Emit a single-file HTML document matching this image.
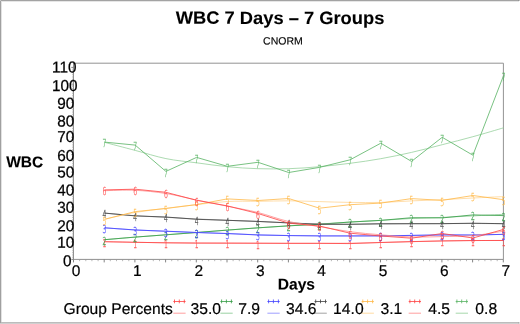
<!DOCTYPE html>
<html><head><meta charset="utf-8"><title>WBC 7 Days – 7 Groups</title>
<style>
html,body{margin:0;padding:0;background:#fff;}
body{width:520px;height:324px;position:relative;overflow:hidden;font-family:"Liberation Sans",Arial,sans-serif;}
.bt{position:absolute;left:0;top:0;width:520px;height:1px;background:linear-gradient(to right,#c8c8c8 0,#c8c8c8 1px,#a3a3a3 1px,#a3a3a3 518px,#949494 518px,#949494 519px,#c0c0c0 519px)}
.bt2{position:absolute;left:0;top:1px;width:519px;height:1px;background:#e6e6e6}
.bl{position:absolute;left:0;top:1px;width:1px;height:322px;background:#a0a0a0}
.bl2{position:absolute;left:1px;top:1px;width:1px;height:321px;background:#e2e2e2}
.bb{position:absolute;left:1px;top:322px;width:519px;height:1px;background:linear-gradient(to right,#bcbcbc 0,#bcbcbc 517px,#b0b0b0 517px,#b0b0b0 518px,#dcdcdc 518px)}
.bb2{position:absolute;left:0;top:323px;width:520px;height:1px;background:linear-gradient(to right,#cfcfcf 0,#cfcfcf 518px,#c4c4c4 518px,#c4c4c4 519px,#e0e0e0 519px)}
</style></head><body>
<div class="bt"></div><div class="bt2"></div><div class="bl2"></div><div class="bl"></div><div class="bb"></div><div class="bb2"></div>
<svg width="520" height="324" viewBox="0 0 520 324" text-rendering="geometricPrecision" style="position:absolute;left:0;top:0;text-rendering:geometricPrecision;font-family:'Liberation Sans',Arial,sans-serif">
<g fill="none" stroke="#939393" stroke-width="1">
<path d="M73.5 63.2 H503.4 V259.4"/>
</g>
<g fill="none" stroke="#909090" stroke-width="1">
<path d="M73.5 63.2 V259.4 H503.4"/>
</g>
<path d="M73.5 259.4v3M104.2 259.4v3M134.9 259.4v3M165.6 259.4v3M196.3 259.4v3M227.0 259.4v3M257.7 259.4v3M288.4 259.4v3M319.1 259.4v3M349.8 259.4v3M380.5 259.4v3M411.2 259.4v3M441.9 259.4v3M472.6 259.4v3M503.3 259.4v3M73.5 259.4h-2.2M73.5 241.9h-2.2M73.5 224.5h-2.2M73.5 207.0h-2.2M73.5 189.6h-2.2M73.5 172.1h-2.2M73.5 154.7h-2.2M73.5 137.2h-2.2M73.5 119.8h-2.2M73.5 102.3h-2.2M73.5 84.9h-2.2M73.5 67.4h-2.2" stroke="#777" stroke-width="0.9" fill="none"/>
<path d="M79.6 259.4v1.8M85.8 259.4v1.8M91.9 259.4v1.8M98.1 259.4v1.8M110.3 259.4v1.8M116.5 259.4v1.8M122.6 259.4v1.8M128.8 259.4v1.8M141.0 259.4v1.8M147.2 259.4v1.8M153.3 259.4v1.8M159.5 259.4v1.8M171.7 259.4v1.8M177.9 259.4v1.8M184.0 259.4v1.8M190.2 259.4v1.8M202.4 259.4v1.8M208.6 259.4v1.8M214.7 259.4v1.8M220.9 259.4v1.8M233.1 259.4v1.8M239.3 259.4v1.8M245.4 259.4v1.8M251.6 259.4v1.8M263.8 259.4v1.8M270.0 259.4v1.8M276.1 259.4v1.8M282.3 259.4v1.8M294.5 259.4v1.8M300.7 259.4v1.8M306.8 259.4v1.8M313.0 259.4v1.8M325.2 259.4v1.8M331.4 259.4v1.8M337.5 259.4v1.8M343.7 259.4v1.8M355.9 259.4v1.8M362.1 259.4v1.8M368.2 259.4v1.8M374.4 259.4v1.8M386.6 259.4v1.8M392.8 259.4v1.8M398.9 259.4v1.8M405.1 259.4v1.8M417.3 259.4v1.8M423.5 259.4v1.8M429.6 259.4v1.8M435.8 259.4v1.8M448.0 259.4v1.8M454.2 259.4v1.8M460.3 259.4v1.8M466.5 259.4v1.8M478.7 259.4v1.8M484.9 259.4v1.8M491.0 259.4v1.8M497.2 259.4v1.8M73.5 257.7h-1.3M73.5 255.9h-1.3M73.5 254.2h-1.3M73.5 252.4h-1.3M73.5 250.7h-1.3M73.5 248.9h-1.3M73.5 247.2h-1.3M73.5 245.4h-1.3M73.5 243.7h-1.3M73.5 240.2h-1.3M73.5 238.5h-1.3M73.5 236.7h-1.3M73.5 235.0h-1.3M73.5 233.2h-1.3M73.5 231.5h-1.3M73.5 229.7h-1.3M73.5 228.0h-1.3M73.5 226.2h-1.3M73.5 222.8h-1.3M73.5 221.0h-1.3M73.5 219.3h-1.3M73.5 217.5h-1.3M73.5 215.8h-1.3M73.5 214.0h-1.3M73.5 212.3h-1.3M73.5 210.5h-1.3M73.5 208.8h-1.3M73.5 205.3h-1.3M73.5 203.6h-1.3M73.5 201.8h-1.3M73.5 200.1h-1.3M73.5 198.3h-1.3M73.5 196.6h-1.3M73.5 194.8h-1.3M73.5 193.1h-1.3M73.5 191.3h-1.3M73.5 187.9h-1.3M73.5 186.1h-1.3M73.5 184.4h-1.3M73.5 182.6h-1.3M73.5 180.9h-1.3M73.5 179.1h-1.3M73.5 177.4h-1.3M73.5 175.6h-1.3M73.5 173.9h-1.3M73.5 170.4h-1.3M73.5 168.7h-1.3M73.5 166.9h-1.3M73.5 165.2h-1.3M73.5 163.4h-1.3M73.5 161.7h-1.3M73.5 159.9h-1.3M73.5 158.2h-1.3M73.5 156.4h-1.3M73.5 153.0h-1.3M73.5 151.2h-1.3M73.5 149.5h-1.3M73.5 147.7h-1.3M73.5 146.0h-1.3M73.5 144.2h-1.3M73.5 142.5h-1.3M73.5 140.7h-1.3M73.5 139.0h-1.3M73.5 135.5h-1.3M73.5 133.8h-1.3M73.5 132.0h-1.3M73.5 130.3h-1.3M73.5 128.5h-1.3M73.5 126.8h-1.3M73.5 125.0h-1.3M73.5 123.3h-1.3M73.5 121.5h-1.3M73.5 118.1h-1.3M73.5 116.3h-1.3M73.5 114.6h-1.3M73.5 112.8h-1.3M73.5 111.1h-1.3M73.5 109.3h-1.3M73.5 107.6h-1.3M73.5 105.8h-1.3M73.5 104.1h-1.3M73.5 100.6h-1.3M73.5 98.9h-1.3M73.5 97.1h-1.3M73.5 95.4h-1.3M73.5 93.6h-1.3M73.5 91.9h-1.3M73.5 90.1h-1.3M73.5 88.4h-1.3M73.5 86.6h-1.3M73.5 83.2h-1.3M73.5 81.4h-1.3M73.5 79.7h-1.3M73.5 77.9h-1.3M73.5 76.2h-1.3M73.5 74.4h-1.3M73.5 72.7h-1.3M73.5 70.9h-1.3M73.5 69.2h-1.3" stroke="#999" stroke-width="0.7" fill="none"/>
<text transform="translate(63.00 266.20) rotate(0.03) scale(0.970 1)" font-size="15.80" text-anchor="start" fill="#000" stroke="#000" stroke-width="0.25">0</text>
<text transform="translate(57.30 247.80) rotate(0.03) scale(0.970 1)" font-size="15.80" text-anchor="start" fill="#000" stroke="#000" stroke-width="0.25">10</text>
<text transform="translate(57.30 231.20) rotate(0.03) scale(0.970 1)" font-size="15.80" text-anchor="start" fill="#000" stroke="#000" stroke-width="0.25">20</text>
<text transform="translate(57.30 212.80) rotate(0.03) scale(0.970 1)" font-size="15.80" text-anchor="start" fill="#000" stroke="#000" stroke-width="0.25">30</text>
<text transform="translate(57.30 195.60) rotate(0.03) scale(0.970 1)" font-size="15.80" text-anchor="start" fill="#000" stroke="#000" stroke-width="0.25">40</text>
<text transform="translate(57.30 177.60) rotate(0.03) scale(0.970 1)" font-size="15.80" text-anchor="start" fill="#000" stroke="#000" stroke-width="0.25">50</text>
<text transform="translate(57.30 160.90) rotate(0.03) scale(0.970 1)" font-size="15.80" text-anchor="start" fill="#000" stroke="#000" stroke-width="0.25">60</text>
<text transform="translate(57.30 142.10) rotate(0.03) scale(0.970 1)" font-size="15.80" text-anchor="start" fill="#000" stroke="#000" stroke-width="0.25">70</text>
<text transform="translate(57.30 126.40) rotate(0.03) scale(0.970 1)" font-size="15.80" text-anchor="start" fill="#000" stroke="#000" stroke-width="0.25">80</text>
<text transform="translate(57.30 108.70) rotate(0.03) scale(0.970 1)" font-size="15.80" text-anchor="start" fill="#000" stroke="#000" stroke-width="0.25">90</text>
<text transform="translate(52.00 90.90) rotate(0.03) scale(0.970 1)" font-size="15.80" text-anchor="start" fill="#000" stroke="#000" stroke-width="0.25">100</text>
<text transform="translate(52.00 72.50) rotate(0.03) scale(0.970 1)" font-size="15.80" text-anchor="start" fill="#000" stroke="#000" stroke-width="0.25">110</text>
<text transform="translate(76.00 275.90) rotate(0.03) scale(1.000 1)" font-size="15.50" text-anchor="middle" fill="#000" stroke="#000" stroke-width="0.20">0</text>
<text transform="translate(137.40 275.90) rotate(0.03) scale(1.000 1)" font-size="15.50" text-anchor="middle" fill="#000" stroke="#000" stroke-width="0.20">1</text>
<text transform="translate(198.80 275.90) rotate(0.03) scale(1.000 1)" font-size="15.50" text-anchor="middle" fill="#000" stroke="#000" stroke-width="0.20">2</text>
<text transform="translate(260.20 275.90) rotate(0.03) scale(1.000 1)" font-size="15.50" text-anchor="middle" fill="#000" stroke="#000" stroke-width="0.20">3</text>
<text transform="translate(321.60 275.90) rotate(0.03) scale(1.000 1)" font-size="15.50" text-anchor="middle" fill="#000" stroke="#000" stroke-width="0.20">4</text>
<text transform="translate(383.00 275.90) rotate(0.03) scale(1.000 1)" font-size="15.50" text-anchor="middle" fill="#000" stroke="#000" stroke-width="0.20">5</text>
<text transform="translate(444.40 275.90) rotate(0.03) scale(1.000 1)" font-size="15.50" text-anchor="middle" fill="#000" stroke="#000" stroke-width="0.20">6</text>
<text transform="translate(505.80 275.90) rotate(0.03) scale(1.000 1)" font-size="15.50" text-anchor="middle" fill="#000" stroke="#000" stroke-width="0.20">7</text>
<path d="M104.5 241.7 C109.6 241.8 125.0 242.1 135.2 242.3 C145.4 242.5 155.7 242.7 165.9 242.8 C176.1 242.9 186.4 242.9 196.6 243.0 C206.8 243.1 217.1 243.1 227.3 243.2 C237.5 243.2 247.8 243.3 258.0 243.3 C268.2 243.3 278.5 243.4 288.7 243.4 C298.9 243.4 309.2 243.4 319.4 243.4 C329.6 243.4 339.9 243.3 350.1 243.2 C360.3 243.0 370.6 242.8 380.8 242.5 C391.0 242.2 401.3 241.9 411.5 241.7 C421.7 241.4 432.0 241.2 442.2 241.0 C452.4 240.8 462.7 240.7 472.9 240.6 C483.1 240.5 498.5 240.4 503.6 240.4" fill="none" stroke="#ff8585" stroke-width="0.75"/>
<polyline points="104.5,241.7 135.2,242.3 165.9,242.8 196.6,243.1 227.3,243.1 258.0,243.2 288.7,243.3 319.4,243.3 350.1,243.6 380.8,242.5 411.5,241.6 442.2,240.9 472.9,240.5 503.6,240.5" fill="none" stroke="#ff4040" stroke-width="0.8"/>
<g font-size="11" font-family="DejaVu Sans Light,DejaVu Sans,sans-serif" text-anchor="middle" fill="#ff4040" stroke="#ff4040" stroke-width="0.4" vector-effect="non-scaling-stroke" opacity="0.8" style="vector-effect:non-scaling-stroke">
<text vector-effect="non-scaling-stroke" transform="translate(104.5 247.0) scale(0.55 1)">1</text>
<text vector-effect="non-scaling-stroke" transform="translate(135.2 247.6) scale(0.55 1)">1</text>
<text vector-effect="non-scaling-stroke" transform="translate(165.9 248.1) scale(0.55 1)">1</text>
<text vector-effect="non-scaling-stroke" transform="translate(196.6 248.4) scale(0.55 1)">1</text>
<text vector-effect="non-scaling-stroke" transform="translate(227.3 248.4) scale(0.55 1)">1</text>
<text vector-effect="non-scaling-stroke" transform="translate(258.0 248.5) scale(0.55 1)">1</text>
<text vector-effect="non-scaling-stroke" transform="translate(288.7 248.6) scale(0.55 1)">1</text>
<text vector-effect="non-scaling-stroke" transform="translate(319.4 248.6) scale(0.55 1)">1</text>
<text vector-effect="non-scaling-stroke" transform="translate(350.1 248.9) scale(0.55 1)">1</text>
<text vector-effect="non-scaling-stroke" transform="translate(380.8 247.8) scale(0.55 1)">1</text>
<text vector-effect="non-scaling-stroke" transform="translate(411.5 246.9) scale(0.55 1)">1</text>
<text vector-effect="non-scaling-stroke" transform="translate(442.2 246.2) scale(0.55 1)">1</text>
<text vector-effect="non-scaling-stroke" transform="translate(472.9 245.8) scale(0.55 1)">1</text>
<text vector-effect="non-scaling-stroke" transform="translate(503.6 245.8) scale(0.55 1)">1</text>
</g>
<path d="M104.5 239.7 C109.6 239.3 125.0 237.9 135.2 237.1 C145.4 236.3 155.7 235.6 165.9 234.8 C176.1 234.0 186.4 233.3 196.6 232.5 C206.8 231.7 217.1 230.9 227.3 230.1 C237.5 229.3 247.8 228.6 258.0 227.9 C268.2 227.2 278.5 226.6 288.7 225.9 C298.9 225.2 309.2 224.6 319.4 224.0 C329.6 223.4 339.9 222.7 350.1 222.1 C360.3 221.5 370.6 220.9 380.8 220.3 C391.0 219.7 401.3 219.0 411.5 218.5 C421.7 218.0 432.0 217.8 442.2 217.4 C452.4 217.0 462.7 216.4 472.9 215.9 C483.1 215.4 498.5 214.6 503.6 214.3" fill="none" stroke="#80c58a" stroke-width="0.75"/>
<polyline points="104.5,239.7 135.2,237.1 165.9,234.8 196.6,232.5 227.3,230.1 258.0,227.8 288.7,225.8 319.4,224.3 350.1,222.0 380.8,220.4 411.5,217.7 442.2,217.9 472.9,214.9 503.6,215.6" fill="none" stroke="#339c44" stroke-width="0.8"/>
<g font-size="11" font-family="DejaVu Sans Light,DejaVu Sans,sans-serif" text-anchor="middle" fill="#339c44" stroke="#339c44" stroke-width="0.4" vector-effect="non-scaling-stroke" opacity="0.8" style="vector-effect:non-scaling-stroke">
<text vector-effect="non-scaling-stroke" transform="translate(104.5 245.0) scale(0.55 1)">2</text>
<text vector-effect="non-scaling-stroke" transform="translate(135.2 242.4) scale(0.55 1)">2</text>
<text vector-effect="non-scaling-stroke" transform="translate(165.9 240.1) scale(0.55 1)">2</text>
<text vector-effect="non-scaling-stroke" transform="translate(196.6 237.8) scale(0.55 1)">2</text>
<text vector-effect="non-scaling-stroke" transform="translate(227.3 235.4) scale(0.55 1)">2</text>
<text vector-effect="non-scaling-stroke" transform="translate(258.0 233.1) scale(0.55 1)">2</text>
<text vector-effect="non-scaling-stroke" transform="translate(288.7 231.1) scale(0.55 1)">2</text>
<text vector-effect="non-scaling-stroke" transform="translate(319.4 229.6) scale(0.55 1)">2</text>
<text vector-effect="non-scaling-stroke" transform="translate(350.1 227.3) scale(0.55 1)">2</text>
<text vector-effect="non-scaling-stroke" transform="translate(380.8 225.7) scale(0.55 1)">2</text>
<text vector-effect="non-scaling-stroke" transform="translate(411.5 223.0) scale(0.55 1)">2</text>
<text vector-effect="non-scaling-stroke" transform="translate(442.2 223.2) scale(0.55 1)">2</text>
<text vector-effect="non-scaling-stroke" transform="translate(472.9 220.2) scale(0.55 1)">2</text>
<text vector-effect="non-scaling-stroke" transform="translate(503.6 220.9) scale(0.55 1)">2</text>
</g>
<path d="M104.5 227.8 C109.6 228.2 125.0 229.3 135.2 229.9 C145.4 230.5 155.7 230.9 165.9 231.3 C176.1 231.7 186.4 232.1 196.6 232.5 C206.8 232.9 217.1 233.2 227.3 233.6 C237.5 234.0 247.8 234.5 258.0 234.8 C268.2 235.1 278.5 235.3 288.7 235.5 C298.9 235.7 309.2 235.8 319.4 235.9 C329.6 236.0 339.9 236.0 350.1 236.0 C360.3 236.0 370.6 235.9 380.8 235.8 C391.0 235.7 401.3 235.5 411.5 235.4 C421.7 235.3 432.0 235.2 442.2 235.1 C452.4 235.0 462.7 235.0 472.9 234.9 C483.1 234.8 498.5 234.5 503.6 234.4" fill="none" stroke="#8585ff" stroke-width="0.75"/>
<polyline points="104.5,227.8 135.2,230.0 165.9,231.2 196.6,232.5 227.3,233.5 258.0,235.0 288.7,235.6 319.4,235.9 350.1,235.9 380.8,235.9 411.5,235.4 442.2,234.8 472.9,235.1 503.6,234.3" fill="none" stroke="#4040ff" stroke-width="0.8"/>
<g font-size="11" font-family="DejaVu Sans Light,DejaVu Sans,sans-serif" text-anchor="middle" fill="#4040ff" stroke="#4040ff" stroke-width="0.4" vector-effect="non-scaling-stroke" opacity="0.8" style="vector-effect:non-scaling-stroke">
<text vector-effect="non-scaling-stroke" transform="translate(104.5 233.1) scale(0.55 1)">3</text>
<text vector-effect="non-scaling-stroke" transform="translate(135.2 235.3) scale(0.55 1)">3</text>
<text vector-effect="non-scaling-stroke" transform="translate(165.9 236.5) scale(0.55 1)">3</text>
<text vector-effect="non-scaling-stroke" transform="translate(196.6 237.8) scale(0.55 1)">3</text>
<text vector-effect="non-scaling-stroke" transform="translate(227.3 238.8) scale(0.55 1)">3</text>
<text vector-effect="non-scaling-stroke" transform="translate(258.0 240.3) scale(0.55 1)">3</text>
<text vector-effect="non-scaling-stroke" transform="translate(288.7 240.9) scale(0.55 1)">3</text>
<text vector-effect="non-scaling-stroke" transform="translate(319.4 241.2) scale(0.55 1)">3</text>
<text vector-effect="non-scaling-stroke" transform="translate(350.1 241.2) scale(0.55 1)">3</text>
<text vector-effect="non-scaling-stroke" transform="translate(380.8 241.2) scale(0.55 1)">3</text>
<text vector-effect="non-scaling-stroke" transform="translate(411.5 240.7) scale(0.55 1)">3</text>
<text vector-effect="non-scaling-stroke" transform="translate(442.2 240.1) scale(0.55 1)">3</text>
<text vector-effect="non-scaling-stroke" transform="translate(472.9 240.4) scale(0.55 1)">3</text>
<text vector-effect="non-scaling-stroke" transform="translate(503.6 239.6) scale(0.55 1)">3</text>
</g>
<path d="M104.5 213.1 C109.6 213.5 125.0 215.0 135.2 215.7 C145.4 216.4 155.7 216.8 165.9 217.3 C176.1 217.9 186.4 218.5 196.6 219.0 C206.8 219.5 217.1 219.9 227.3 220.3 C237.5 220.7 247.8 221.1 258.0 221.5 C268.2 221.9 278.5 222.5 288.7 222.9 C298.9 223.3 309.2 223.8 319.4 224.0 C329.6 224.2 339.9 224.3 350.1 224.3 C360.3 224.3 370.6 224.1 380.8 224.0 C391.0 223.9 401.3 223.8 411.5 223.7 C421.7 223.6 432.0 223.6 442.2 223.6 C452.4 223.6 462.7 223.5 472.9 223.5 C483.1 223.5 498.5 223.7 503.6 223.7" fill="none" stroke="#8a8a8a" stroke-width="0.75"/>
<polyline points="104.5,213.1 135.2,215.9 165.9,217.0 196.6,219.3 227.3,220.3 258.0,221.4 288.7,222.9 319.4,224.3 350.1,224.3 380.8,223.7 411.5,223.7 442.2,223.7 472.9,223.2 503.6,223.7" fill="none" stroke="#404040" stroke-width="0.8"/>
<g font-size="11" font-family="DejaVu Sans Light,DejaVu Sans,sans-serif" text-anchor="middle" fill="#404040" stroke="#404040" stroke-width="0.4" vector-effect="non-scaling-stroke" opacity="0.8" style="vector-effect:non-scaling-stroke">
<text vector-effect="non-scaling-stroke" transform="translate(104.5 218.4) scale(0.55 1)">4</text>
<text vector-effect="non-scaling-stroke" transform="translate(135.2 221.2) scale(0.55 1)">4</text>
<text vector-effect="non-scaling-stroke" transform="translate(165.9 222.3) scale(0.55 1)">4</text>
<text vector-effect="non-scaling-stroke" transform="translate(196.6 224.6) scale(0.55 1)">4</text>
<text vector-effect="non-scaling-stroke" transform="translate(227.3 225.6) scale(0.55 1)">4</text>
<text vector-effect="non-scaling-stroke" transform="translate(258.0 226.7) scale(0.55 1)">4</text>
<text vector-effect="non-scaling-stroke" transform="translate(288.7 228.2) scale(0.55 1)">4</text>
<text vector-effect="non-scaling-stroke" transform="translate(319.4 229.6) scale(0.55 1)">4</text>
<text vector-effect="non-scaling-stroke" transform="translate(350.1 229.6) scale(0.55 1)">4</text>
<text vector-effect="non-scaling-stroke" transform="translate(380.8 229.0) scale(0.55 1)">4</text>
<text vector-effect="non-scaling-stroke" transform="translate(411.5 229.0) scale(0.55 1)">4</text>
<text vector-effect="non-scaling-stroke" transform="translate(442.2 229.0) scale(0.55 1)">4</text>
<text vector-effect="non-scaling-stroke" transform="translate(472.9 228.5) scale(0.55 1)">4</text>
<text vector-effect="non-scaling-stroke" transform="translate(503.6 229.0) scale(0.55 1)">4</text>
</g>
<path d="M104.5 219.3 C109.6 218.2 125.0 214.3 135.2 212.5 C145.4 210.7 155.7 209.6 165.9 208.3 C176.1 207.0 186.4 205.7 196.6 204.6 C206.8 203.5 217.1 202.1 227.3 201.5 C237.5 200.9 247.8 201.4 258.0 201.3 C268.2 201.2 278.5 200.8 288.7 200.8 C298.9 200.9 309.2 201.3 319.4 201.6 C329.6 201.9 339.9 202.3 350.1 202.4 C360.3 202.5 370.6 202.7 380.8 202.4 C391.0 202.2 401.3 201.4 411.5 200.9 C421.7 200.4 432.0 200.2 442.2 199.7 C452.4 199.2 462.7 198.5 472.9 198.0 C483.1 197.5 498.5 196.8 503.6 196.6" fill="none" stroke="#ffd28c" stroke-width="0.75"/>
<polyline points="104.5,219.3 135.2,211.6 165.9,208.5 196.6,204.6 227.3,198.9 258.0,200.5 288.7,198.5 319.4,208.2 350.1,204.7 380.8,203.1 411.5,198.6 442.2,200.4 472.9,195.5 503.6,199.7" fill="none" stroke="#ffb846" stroke-width="0.8"/>
<g font-size="11" font-family="DejaVu Sans Light,DejaVu Sans,sans-serif" text-anchor="middle" fill="#ffb846" stroke="#ffb846" stroke-width="0.4" vector-effect="non-scaling-stroke" opacity="0.8" style="vector-effect:non-scaling-stroke">
<text vector-effect="non-scaling-stroke" transform="translate(104.5 224.6) scale(0.55 1)">5</text>
<text vector-effect="non-scaling-stroke" transform="translate(135.2 216.9) scale(0.55 1)">5</text>
<text vector-effect="non-scaling-stroke" transform="translate(165.9 213.8) scale(0.55 1)">5</text>
<text vector-effect="non-scaling-stroke" transform="translate(196.6 209.9) scale(0.55 1)">5</text>
<text vector-effect="non-scaling-stroke" transform="translate(227.3 204.2) scale(0.55 1)">5</text>
<text vector-effect="non-scaling-stroke" transform="translate(258.0 205.8) scale(0.55 1)">5</text>
<text vector-effect="non-scaling-stroke" transform="translate(288.7 203.8) scale(0.55 1)">5</text>
<text vector-effect="non-scaling-stroke" transform="translate(319.4 213.5) scale(0.55 1)">5</text>
<text vector-effect="non-scaling-stroke" transform="translate(350.1 210.0) scale(0.55 1)">5</text>
<text vector-effect="non-scaling-stroke" transform="translate(380.8 208.4) scale(0.55 1)">5</text>
<text vector-effect="non-scaling-stroke" transform="translate(411.5 203.9) scale(0.55 1)">5</text>
<text vector-effect="non-scaling-stroke" transform="translate(442.2 205.7) scale(0.55 1)">5</text>
<text vector-effect="non-scaling-stroke" transform="translate(472.9 200.8) scale(0.55 1)">5</text>
<text vector-effect="non-scaling-stroke" transform="translate(503.6 205.0) scale(0.55 1)">5</text>
</g>
<path d="M104.5 190.7 C109.6 190.6 125.0 189.8 135.2 190.3 C145.4 190.8 155.7 191.9 165.9 193.5 C176.1 195.1 186.4 197.9 196.6 200.0 C206.8 202.1 217.1 204.1 227.3 206.2 C237.5 208.3 247.8 209.9 258.0 212.5 C268.2 215.1 278.5 219.2 288.7 221.5 C298.9 223.8 309.2 224.9 319.4 226.6 C329.6 228.3 339.9 230.3 350.1 231.7 C360.3 233.1 370.6 233.9 380.8 234.8 C391.0 235.7 401.3 236.7 411.5 237.0 C421.7 237.3 432.0 236.8 442.2 236.6 C452.4 236.4 462.7 236.5 472.9 235.6 C483.1 234.7 498.5 231.9 503.6 231.2" fill="none" stroke="#ff8585" stroke-width="0.75"/>
<polyline points="104.5,189.9 135.2,189.2 165.9,192.3 196.6,200.3 227.3,205.9 258.0,213.5 288.7,223.2 319.4,226.0 350.1,233.2 380.8,236.0 411.5,238.2 442.2,233.5 472.9,238.0 503.6,229.4" fill="none" stroke="#ff4040" stroke-width="0.8"/>
<g font-size="11" font-family="DejaVu Sans Light,DejaVu Sans,sans-serif" text-anchor="middle" fill="#ff4040" stroke="#ff4040" stroke-width="0.4" vector-effect="non-scaling-stroke" opacity="0.8" style="vector-effect:non-scaling-stroke">
<text vector-effect="non-scaling-stroke" transform="translate(104.5 195.2) scale(0.55 1)">6</text>
<text vector-effect="non-scaling-stroke" transform="translate(135.2 194.5) scale(0.55 1)">6</text>
<text vector-effect="non-scaling-stroke" transform="translate(165.9 197.6) scale(0.55 1)">6</text>
<text vector-effect="non-scaling-stroke" transform="translate(196.6 205.6) scale(0.55 1)">6</text>
<text vector-effect="non-scaling-stroke" transform="translate(227.3 211.2) scale(0.55 1)">6</text>
<text vector-effect="non-scaling-stroke" transform="translate(258.0 218.8) scale(0.55 1)">6</text>
<text vector-effect="non-scaling-stroke" transform="translate(288.7 228.5) scale(0.55 1)">6</text>
<text vector-effect="non-scaling-stroke" transform="translate(319.4 231.3) scale(0.55 1)">6</text>
<text vector-effect="non-scaling-stroke" transform="translate(350.1 238.5) scale(0.55 1)">6</text>
<text vector-effect="non-scaling-stroke" transform="translate(380.8 241.3) scale(0.55 1)">6</text>
<text vector-effect="non-scaling-stroke" transform="translate(411.5 243.5) scale(0.55 1)">6</text>
<text vector-effect="non-scaling-stroke" transform="translate(442.2 238.8) scale(0.55 1)">6</text>
<text vector-effect="non-scaling-stroke" transform="translate(472.9 243.3) scale(0.55 1)">6</text>
<text vector-effect="non-scaling-stroke" transform="translate(503.6 234.7) scale(0.55 1)">6</text>
</g>
<path d="M104.5 142.3 C109.6 143.7 125.0 147.7 135.2 150.4 C145.4 153.1 155.7 156.5 165.9 158.6 C176.1 160.7 186.4 161.5 196.6 162.8 C206.8 164.2 217.1 165.7 227.3 166.7 C237.5 167.7 247.8 168.4 258.0 168.7 C268.2 169.0 278.5 169.0 288.7 168.7 C298.9 168.4 309.2 167.6 319.4 166.7 C329.6 165.8 339.9 164.6 350.1 163.3 C360.3 162.0 370.6 160.5 380.8 158.7 C391.0 156.9 401.3 154.7 411.5 152.4 C421.7 150.1 432.0 147.3 442.2 144.7 C452.4 142.1 462.7 139.5 472.9 136.7 C483.1 133.9 498.5 129.3 503.6 127.8" fill="none" stroke="#90ce97" stroke-width="0.75"/>
<polyline points="104.5,142.1 135.2,145.1 165.9,171.4 196.6,157.4 227.3,166.3 258.0,162.3 288.7,172.5 319.4,167.4 350.1,159.8 380.8,143.2 411.5,161.4 442.2,137.3 472.9,155.2 503.6,75.4" fill="none" stroke="#57b362" stroke-width="0.8"/>
<g font-size="11" font-family="DejaVu Sans Light,DejaVu Sans,sans-serif" text-anchor="middle" fill="#57b362" stroke="#57b362" stroke-width="0.4" vector-effect="non-scaling-stroke" opacity="0.8" style="vector-effect:non-scaling-stroke">
<text vector-effect="non-scaling-stroke" transform="translate(104.5 147.4) scale(0.55 1)">7</text>
<text vector-effect="non-scaling-stroke" transform="translate(135.2 150.4) scale(0.55 1)">7</text>
<text vector-effect="non-scaling-stroke" transform="translate(165.9 176.7) scale(0.55 1)">7</text>
<text vector-effect="non-scaling-stroke" transform="translate(196.6 162.7) scale(0.55 1)">7</text>
<text vector-effect="non-scaling-stroke" transform="translate(227.3 171.7) scale(0.55 1)">7</text>
<text vector-effect="non-scaling-stroke" transform="translate(258.0 167.6) scale(0.55 1)">7</text>
<text vector-effect="non-scaling-stroke" transform="translate(288.7 177.8) scale(0.55 1)">7</text>
<text vector-effect="non-scaling-stroke" transform="translate(319.4 172.7) scale(0.55 1)">7</text>
<text vector-effect="non-scaling-stroke" transform="translate(350.1 165.1) scale(0.55 1)">7</text>
<text vector-effect="non-scaling-stroke" transform="translate(380.8 148.5) scale(0.55 1)">7</text>
<text vector-effect="non-scaling-stroke" transform="translate(411.5 166.7) scale(0.55 1)">7</text>
<text vector-effect="non-scaling-stroke" transform="translate(442.2 142.6) scale(0.55 1)">7</text>
<text vector-effect="non-scaling-stroke" transform="translate(472.9 160.5) scale(0.55 1)">7</text>
<text vector-effect="non-scaling-stroke" transform="translate(503.6 80.7) scale(0.55 1)">7</text>
</g>
<text transform="translate(280.00 23.90) rotate(0.03) scale(1.030 1)" font-size="17.80" text-anchor="middle" font-weight="bold" fill="#000" stroke="#000" stroke-width="0.10">WBC 7 Days – 7 Groups</text>
<text transform="translate(282.90 44.40) rotate(0.03) scale(1.000 1)" font-size="10.50" text-anchor="middle" fill="#000" stroke="#000" stroke-width="0.15">CNORM</text>
<text transform="translate(6.20 167.20) rotate(0.03) scale(1.000 1)" font-size="15.50" text-anchor="start" font-weight="bold" fill="#000" stroke="#000" stroke-width="0.10">WBC</text>
<text transform="translate(277.70 289.40) rotate(0.03) scale(1.000 1)" font-size="15.60" text-anchor="start" font-weight="bold" fill="#000" stroke="#000" stroke-width="0.10">Days</text>
<text transform="translate(63.60 314.00) rotate(0.03) scale(1.000 1)" font-size="15.60" text-anchor="start" fill="#000" stroke="#000" stroke-width="0.20">Group Percents</text>
<path d="M173.3 301.5h12.3M174.5 299.5v3.8M179.3 299.5v3.8M184.3 299.5v3.8" stroke="#ff4040" stroke-width="0.8" fill="none"/>
<path d="M173.3 313.2h12.3" stroke="#ff8585" stroke-width="0.8" fill="none"/>
<text transform="translate(190.50 314.00) rotate(0.03) scale(1.000 1)" font-size="15.70" text-anchor="start" fill="#000" stroke="#000" stroke-width="0.20">35.0</text>
<path d="M220.4 301.5h12.3M221.6 299.5v3.8M226.4 299.5v3.8M231.4 299.5v3.8" stroke="#339c44" stroke-width="0.8" fill="none"/>
<path d="M220.4 313.2h12.3" stroke="#80c58a" stroke-width="0.8" fill="none"/>
<text transform="translate(238.27 314.00) rotate(0.03) scale(1.000 1)" font-size="15.70" text-anchor="start" fill="#000" stroke="#000" stroke-width="0.20">7.9</text>
<path d="M267.4 301.5h12.3M268.6 299.5v3.8M273.4 299.5v3.8M278.4 299.5v3.8" stroke="#4040ff" stroke-width="0.8" fill="none"/>
<path d="M267.4 313.2h12.3" stroke="#8585ff" stroke-width="0.8" fill="none"/>
<text transform="translate(286.04 314.00) rotate(0.03) scale(1.000 1)" font-size="15.70" text-anchor="start" fill="#000" stroke="#000" stroke-width="0.20">34.6</text>
<path d="M314.5 301.5h12.3M315.7 299.5v3.8M320.5 299.5v3.8M325.5 299.5v3.8" stroke="#404040" stroke-width="0.8" fill="none"/>
<path d="M314.5 313.2h12.3" stroke="#8a8a8a" stroke-width="0.8" fill="none"/>
<text transform="translate(333.11 314.00) rotate(0.03) scale(1.000 1)" font-size="15.70" text-anchor="start" fill="#000" stroke="#000" stroke-width="0.20">14.0</text>
<path d="M361.6 301.5h12.3M362.8 299.5v3.8M367.6 299.5v3.8M372.6 299.5v3.8" stroke="#ffb846" stroke-width="0.8" fill="none"/>
<path d="M361.6 313.2h12.3" stroke="#ffd28c" stroke-width="0.8" fill="none"/>
<text transform="translate(380.48 314.00) rotate(0.03) scale(1.000 1)" font-size="15.70" text-anchor="start" fill="#000" stroke="#000" stroke-width="0.20">3.1</text>
<path d="M408.7 301.5h12.3M409.9 299.5v3.8M414.7 299.5v3.8M419.7 299.5v3.8" stroke="#ff4040" stroke-width="0.8" fill="none"/>
<path d="M408.7 313.2h12.3" stroke="#ff8585" stroke-width="0.8" fill="none"/>
<text transform="translate(428.25 314.00) rotate(0.03) scale(1.000 1)" font-size="15.70" text-anchor="start" fill="#000" stroke="#000" stroke-width="0.20">4.5</text>
<path d="M455.7 301.5h12.3M456.9 299.5v3.8M461.7 299.5v3.8M466.7 299.5v3.8" stroke="#57b362" stroke-width="0.8" fill="none"/>
<path d="M455.7 313.2h12.3" stroke="#90ce97" stroke-width="0.8" fill="none"/>
<text transform="translate(475.32 314.00) rotate(0.03) scale(1.000 1)" font-size="15.70" text-anchor="start" fill="#000" stroke="#000" stroke-width="0.20">0.8</text>
</svg>
</body></html>
